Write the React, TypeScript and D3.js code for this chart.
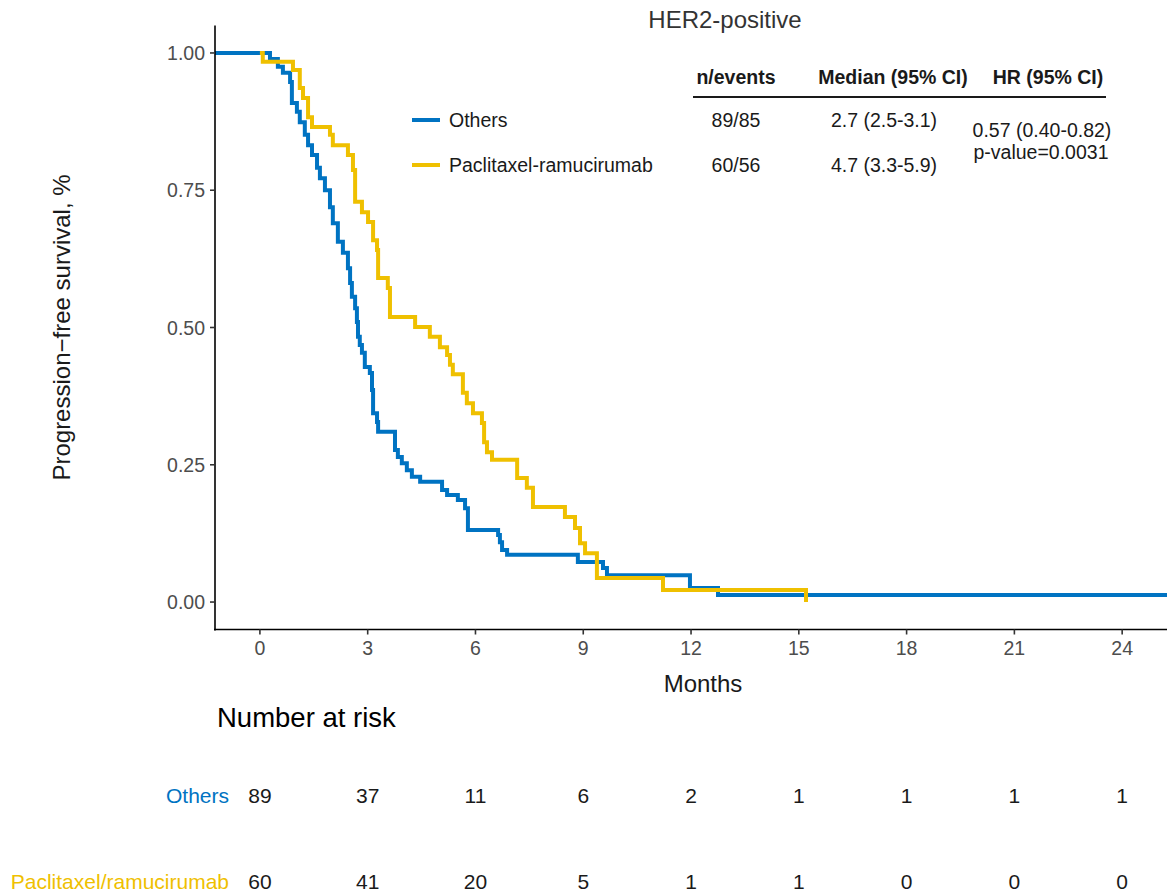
import React from "react";
import * as d3 from "d3";

// ---- Data ----
const othersTimes = [0, 0.28, 0.5, 0.64, 0.84, 0.89, 1.03, 1.11, 1.25, 1.34, 1.45, 1.59, 1.67, 1.81, 1.95, 2.03, 2.17, 2.31, 2.45, 2.51, 2.56, 2.65, 2.7, 2.73, 2.78, 2.84, 2.92, 3.06, 3.12, 3.15, 3.26, 3.29, 3.76, 3.84, 3.95, 4.09, 4.23, 4.46, 5.07, 5.21, 5.51, 5.71, 5.79, 6.63, 6.68, 6.74, 6.88, 8.85, 9.55, 9.66, 11.97, 12.75];
const othersSurv = [1, 0.989, 0.975, 0.964, 0.947, 0.909, 0.893, 0.874, 0.851, 0.832, 0.814, 0.791, 0.772, 0.75, 0.719, 0.69, 0.656, 0.636, 0.608, 0.581, 0.556, 0.535, 0.51, 0.483, 0.468, 0.454, 0.428, 0.417, 0.386, 0.344, 0.328, 0.31, 0.277, 0.264, 0.253, 0.24, 0.228, 0.219, 0.204, 0.195, 0.186, 0.171, 0.131, 0.122, 0.109, 0.095, 0.086, 0.073, 0.062, 0.049, 0.0255, 0.0128];
const othersEnd = 25.3;

const pacTimes = [0, 0.08, 0.92, 1.11, 1.2, 1.34, 1.45, 1.95, 2.03, 2.45, 2.59, 2.65, 2.84, 3.01, 3.15, 3.26, 3.29, 3.56, 3.62, 4.32, 4.73, 5.01, 5.21, 5.29, 5.37, 5.65, 5.76, 5.93, 6.18, 6.24, 6.32, 6.46, 7.16, 7.43, 7.6, 8.49, 8.77, 8.91, 9.05, 9.38, 11.22, 15.2];
const pacSurv = [1, 0.984, 0.969, 0.936, 0.918, 0.883, 0.865, 0.851, 0.832, 0.814, 0.787, 0.729, 0.71, 0.692, 0.659, 0.641, 0.59, 0.572, 0.519, 0.501, 0.483, 0.464, 0.45, 0.432, 0.415, 0.381, 0.362, 0.344, 0.326, 0.291, 0.273, 0.259, 0.226, 0.208, 0.173, 0.155, 0.135, 0.107, 0.089, 0.044, 0.022, 0];
const pacEnd = 15.2;

const xTicks = [0, 3, 6, 9, 12, 15, 18, 21, 24];
const yTicks = [0, 0.25, 0.5, 0.75, 1];
const riskOthers = [89, 37, 11, 6, 2, 1, 1, 1, 1];
const riskPac = [60, 41, 20, 5, 1, 1, 0, 0, 0];

const groupNames = ["Others", "Paclitaxel-ramucirumab"];
const riskNames = ["Others", "Paclitaxel/ramucirumab"];
const nEvents = ["89/85", "60/56"];
const medians = ["2.7 (2.5-3.1)", "4.7 (3.3-5.9)"];
const hrText = ["0.57 (0.40-0.82)", "p-value=0.0031"];
const tableHeaders = ["n/events", "Median (95% CI)", "HR (95% CI)"];

const BLUE = "#0073C2";
const YELLOW = "#EFC000";
const FONT = "'Liberation Sans', Arial, sans-serif";

export default function App() {
  const W = 1167, H = 895;
  const x = d3.scaleLinear().domain([-1.25, 26.25]).range([215, 1203]);
  const y = d3.scaleLinear().domain([-0.05, 1.05]).range([629.5, 25.5]);

  const line = d3.line<[number, number]>().x(d => x(d[0])).y(d => y(d[1])).curve(d3.curveStepAfter);
  const mk = (t: number[], s: number[], end: number): [number, number][] => {
    const pts: [number, number][] = t.map((v, i) => [v, s[i]] as [number, number]);
    pts.push([end, s[s.length - 1]]);
    return pts;
  };
  const othersPts = mk(othersTimes, othersSurv, othersEnd);
  othersPts.unshift([x.domain()[0], othersSurv[0]]);
  const othersPath = line(othersPts) || "";
  const pacPath = line(mk(pacTimes, pacSurv, pacEnd)) || "";

  const tickCol = "#4D4D4D";
  const txt = "#1a1a1a";
  const axisY0 = 629.5;
  const lf = 19.5;

  return (
    <svg width={W} height={H} style={{ position: "fixed", left: 0, top: 0, background: "#fff" }} fontFamily={FONT}>
      <rect x={0} y={0} width={W} height={H} fill="#fff" />
      <text x={725} y={28} textAnchor="middle" fontSize={24} fill="#333">HER2-positive</text>

      {/* curves */}
      <defs>
        <clipPath id="plotclip"><rect x={215} y={0} width={W - 215} height={axisY0} /></clipPath>
      </defs>
      <g clipPath="url(#plotclip)">
        <path d={othersPath} fill="none" stroke={BLUE} strokeWidth={4} />
        <path d={pacPath} fill="none" stroke={YELLOW} strokeWidth={4} />
      </g>

      {/* axes */}
      <line x1={215} x2={215} y1={25.5} y2={axisY0 + 1} stroke="#000" strokeWidth={1.6} />
      <line x1={214} x2={W} y1={axisY0} y2={axisY0} stroke="#000" strokeWidth={1.6} />
      {yTicks.map(v => (
        <g key={"y" + v}>
          <line x1={210} x2={215} y1={y(v)} y2={y(v)} stroke="#333" strokeWidth={1.6} />
          <text x={205} y={y(v) + 7} textAnchor="end" fontSize={19.5} fill={tickCol}>{v.toFixed(2)}</text>
        </g>
      ))}
      {xTicks.map(v => (
        <g key={"x" + v}>
          <line x1={x(v)} x2={x(v)} y1={axisY0} y2={axisY0 + 5} stroke="#333" strokeWidth={1.6} />
          <text x={x(v)} y={655} textAnchor="middle" fontSize={19.5} fill={tickCol}>{v}</text>
        </g>
      ))}
      <text x={703} y={692} textAnchor="middle" fontSize={24} fill={txt}>Months</text>
      <text transform={`translate(70,${y(0.5)}) rotate(-90)`} textAnchor="middle" fontSize={24} fill={txt}>Progression−free survival, %</text>

      {/* legend + table */}
      {groupNames.map((g, i) => (
        <g key={g}>
          <line x1={412} x2={440} y1={120 + i * 45} y2={120 + i * 45} stroke={i === 0 ? BLUE : YELLOW} strokeWidth={4} />
          <text x={449} y={127 + i * 45} fontSize={lf} fill={txt}>{g}</text>
          <text x={736} y={127 + i * 45} textAnchor="middle" fontSize={lf} fill={txt}>{nEvents[i]}</text>
          <text x={884} y={127 + i * 45} textAnchor="middle" fontSize={lf} fill={txt}>{medians[i]}</text>
        </g>
      ))}
      {[736, 893, 1048].map((cx, i) => (
        <text key={"h" + i} x={cx} y={84} textAnchor="middle" fontSize={lf} fontWeight="bold" fill={txt}>{tableHeaders[i]}</text>
      ))}
      <line x1={693} x2={1106} y1={97} y2={97} stroke={txt} strokeWidth={2.2} />
      <text x={1042} y={137} textAnchor="middle" fontSize={lf} fill={txt}>{hrText[0]}</text>
      <text x={1041} y={159} textAnchor="middle" fontSize={lf} fill={txt}>{hrText[1]}</text>

      {/* risk table */}
      <text x={217} y={727} fontSize={27.5} fill="#000">Number at risk</text>
      <text x={229} y={803} textAnchor="end" fontSize={21} fill={BLUE}>{riskNames[0]}</text>
      <text x={229} y={889} textAnchor="end" fontSize={21} fill={YELLOW}>{riskNames[1]}</text>
      {xTicks.map((t, i) => (
        <g key={"r" + t}>
          <text x={x(t)} y={803} textAnchor="middle" fontSize={21} fill={txt}>{riskOthers[i]}</text>
          <text x={x(t)} y={889} textAnchor="middle" fontSize={21} fill={txt}>{riskPac[i]}</text>
        </g>
      ))}
    </svg>
  );
}
